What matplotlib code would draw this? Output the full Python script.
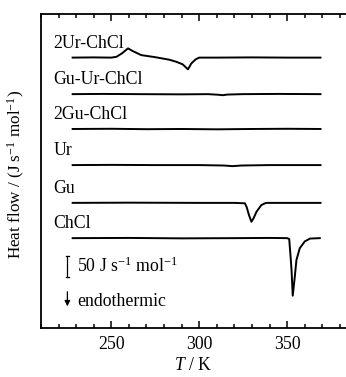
import matplotlib.pyplot as plt
from matplotlib.ticker import MultipleLocator

plt.rcParams['font.family'] = ['Liberation Serif', 'DejaVu Serif']
plt.rcParams['mathtext.fontset'] = 'custom'
plt.rcParams['mathtext.rm'] = 'Liberation Serif'
plt.rcParams['mathtext.it'] = 'Liberation Serif:italic'
plt.rcParams['font.size'] = 12.8

# DSC traces, heat flow relative to each baseline (J s^-1 mol^-1)
names = ['2Ur-ChCl', 'Gu-Ur-ChCl', '2Gu-ChCl', 'Ur', 'Gu', 'ChCl']

t_2ur = [228, 240, 250, 253, 256, 259.5, 262, 267, 275, 283, 287, 290.6, 293.6, 295.5, 298, 300, 310, 330, 350, 369]
hf_2ur = [0, 0.5, 0, 2, 10, 22, 16, 6, 1, -5, -10, -16, -28, -14, -4, 0, 0, 0.5, 0, 0]

t_guur = [228, 245, 265, 290, 305, 311, 313.5, 316, 325, 345, 369]
hf_guur = [0, 0.5, 0, -0.5, 0, -1.5, -2.5, -1, 0, 0.5, 0]

t_2gu = [228, 250, 270, 290, 310, 330, 350, 369]
hf_2gu = [0, 0.5, -0.5, 0, -0.8, 0, 0.5, 0]

t_ur = [228, 250, 275, 300, 314, 319, 324, 340, 369]
hf_ur = [0, 0.5, 0, 0, -1, -2.5, -1, 0, 0]

t_gu = [228, 260, 300, 320, 326, 327, 328.3, 329.7, 331, 332.6, 335.4, 338, 345, 369]
hf_gu = [0, 0.5, 0, 0, -1, -10, -29, -45, -36, -21, -5, 0, 0, 0]

t_chcl = [228, 260, 290, 320, 340, 350, 351.2, 351.9, 352.5, 353.2, 354.4, 355.3, 357.2, 360, 363, 368.6]
hf_chcl = [0, 0.5, -0.5, 0, 0.5, 0, -2, -40, -75, -137, -91, -52, -24, -8, -1, 0]

temps = [t_2ur, t_guur, t_2gu, t_ur, t_gu, t_chcl]
flows = [hf_2ur, hf_guur, hf_2gu, hf_ur, hf_gu, hf_chcl]
offsets = [644, 557, 474, 388, 298, 214]

fig = plt.figure(figsize=(3.46, 3.77), dpi=100)
ax = fig.add_axes([0.1185, 0.130, 0.8815, 0.833])

for name, t, hf, off in zip(names, temps, flows, offsets):
    ax.plot(t, [v + off for v in hf], color='black', lw=1.4)
    ax.text(217, off + 34, name, va='center', ha='left')

# scale bar: 50 J s^-1 mol^-1
ax.plot([225, 225], [121, 171], color='black', lw=0.9)
ax.plot([224, 226], [121, 121], color='black', lw=0.9)
ax.plot([224, 226], [171, 171], color='black', lw=0.9)
ax.text(230.5, 146, r'50 J s$^{\mathregular{-1}}$ mol$^{\mathregular{-1}}$', va='center', ha='left')

# endothermic arrow
ax.annotate('', xy=(225, 45), xytext=(225, 93),
            arrowprops=dict(arrowstyle='-|>', color='black', lw=0.9, mutation_scale=8))
ax.text(230.5, 64, 'endothermic', va='center', ha='left')

ax.set_xlim(210, 383.5)
ax.set_ylim(0, 748)
ax.xaxis.set_major_locator(MultipleLocator(50))
ax.xaxis.set_minor_locator(MultipleLocator(10))
ax.tick_params(axis='x', which='both', direction='in', top=True, width=1.1)
ax.tick_params(axis='x', which='major', length=5, pad=6)
ax.tick_params(axis='x', which='minor', length=3)
ax.set_yticks([])
ax.spines['right'].set_visible(False)
for s in ['left', 'top', 'bottom']:
    ax.spines[s].set_linewidth(1.3)

ax.set_xlabel(r'$T$ / K', labelpad=3)
ax.set_ylabel(r'Heat flow / (J s$^{\mathregular{-1}}$ mol$^{\mathregular{-1}}$)', fontsize=12.3)
ax.yaxis.set_label_coords(-0.045, 0.49)

fig.savefig('out.png', dpi=100)
